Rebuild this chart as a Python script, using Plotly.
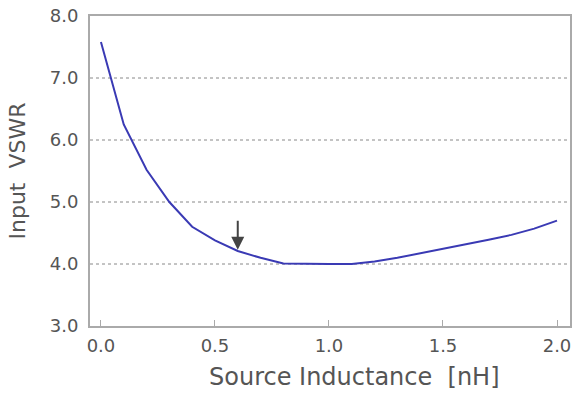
import plotly.graph_objects as go

inductance_nh = [0.0, 0.1, 0.2, 0.3, 0.4, 0.5, 0.6, 0.7, 0.8, 0.9, 1.0, 1.1, 1.2,
                 1.3, 1.4, 1.5, 1.6, 1.7, 1.8, 1.9, 2.0]
input_vswr = [7.58, 6.25, 5.52, 5.0, 4.6, 4.38, 4.21, 4.1, 4.01, 4.0, 4.0, 4.0, 4.04,
              4.1, 4.17, 4.24, 4.31, 4.39, 4.47, 4.57, 4.7]
x_ticks = [0.0, 0.5, 1.0, 1.5, 2.0]
x_tick_labels = ["0.0", "0.5", "1.0", "1.5", "2.0"]
y_ticks = [3.0, 4.0, 5.0, 6.0, 7.0, 8.0]
y_tick_labels = ["3.0", "4.0", "5.0", "6.0", "7.0", "8.0"]
arrow_x = 0.6
arrow_tip = 4.23
arrow_tail = 4.72

font_family = "DejaVu Sans, sans-serif"
tick_color = "#555555"

fig = go.Figure()
fig.add_trace(go.Scatter(x=inductance_nh, y=input_vswr, mode="lines",
                         line=dict(color="#3a3ab4", width=2), showlegend=False))

# dotted grid lines at interior ticks
for yv in y_ticks[1:-1]:
    fig.add_shape(type="line", xref="paper", x0=0, x1=1, yref="y", y0=yv, y1=yv,
                  line=dict(color="#888888", width=1, dash="dot"), layer="below")

fig.add_annotation(x=arrow_x, y=arrow_tip, ax=arrow_x, ay=arrow_tail,
                   xref="x", yref="y", axref="x", ayref="y", text="",
                   showarrow=True, arrowhead=2, arrowsize=1.3, arrowwidth=2,
                   arrowcolor="#444444")

# x-axis title (offset to the right as in the reference)
fig.add_annotation(text="Source Inductance  [nH]", xref="paper", yref="paper",
                   x=0.55, y=-0.165, xanchor="center", yanchor="middle",
                   showarrow=False, font=dict(size=24, color=tick_color))

fig.update_layout(
    width=575, height=394,
    margin=dict(l=90, r=3, t=16, b=68),
    plot_bgcolor="white", paper_bgcolor="white",
    font=dict(family=font_family, color=tick_color, size=18),
    xaxis=dict(range=[-0.048, 2.057], tickvals=x_ticks, ticktext=x_tick_labels,
               showgrid=False, zeroline=False, showline=True, linecolor="#aaaaaa",
               linewidth=2, mirror=True, ticks="inside", ticklen=6, tickcolor="#aaaaaa",
               ticklabelstandoff=2,
               tickfont=dict(size=18, color=tick_color)),
    yaxis=dict(range=[3.0, 8.0], tickvals=y_ticks, ticktext=y_tick_labels,
               showgrid=False, zeroline=False, showline=True, linecolor="#aaaaaa",
               linewidth=2, mirror=True, ticks="",
               ticklabelstandoff=6,
               tickfont=dict(size=18, color=tick_color),
               title=dict(text="Input  VSWR", font=dict(size=22, color=tick_color),
                          standoff=18)),
)

fig.write_html("out.html")
